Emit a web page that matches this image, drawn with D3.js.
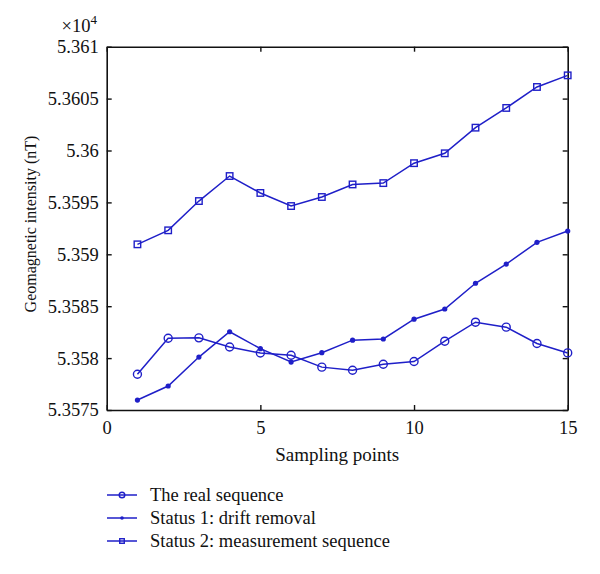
<!DOCTYPE html>
<html>
<head>
<meta charset="utf-8">
<script src="https://cdn.jsdelivr.net/npm/d3@7"></script>
<style>
body { margin: 0; background: #fff; }
svg text { font-family: "Liberation Serif", "DejaVu Serif", serif; fill: #111; }
.axis path, .axis line { stroke: #111; }
</style>
</head>
<body>
<svg id="chart" width="600" height="574"></svg>
<script>
"use strict";

// sampling points
var samples = [1, 2, 3, 4, 5, 6, 7, 8, 9, 10, 11, 12, 13, 14, 15];
// values in units of 10^4 nT
var realSeq = [5.357844, 5.358191, 5.358195, 5.358107, 5.358049, 5.358027, 5.357913,
    5.357883, 5.357941, 5.357967, 5.358163, 5.358346, 5.358298, 5.358141, 5.35805];
var driftRemoval = [5.357596, 5.357731, 5.35801, 5.358254, 5.358091, 5.357962, 5.358052,
    5.358173, 5.358184, 5.358375, 5.358473, 5.358721, 5.358906, 5.359115, 5.359224];
var measurement = [5.359096, 5.359231, 5.359513, 5.359754, 5.359591, 5.359465, 5.359552,
    5.359673, 5.359686, 5.359878, 5.359973, 5.36022, 5.36041, 5.360612, 5.360724];
var xTicks = [0, 5, 10, 15];
var yTicks = [5.3575, 5.358, 5.3585, 5.359, 5.3595, 5.36, 5.3605, 5.361];
var legendNames = ["The real sequence", "Status 1: drift removal", "Status 2: measurement sequence"];

function create_graph(selector) {
    var blue = "#1f1fc8";
    var fontSize = "18.5px";
    var svg = d3.select(selector);
    var pLeft = 106.7, pRight = 567.7, pTop = 46.7, pBottom = 410;

    var x = d3.scaleLinear().domain([0, 15]).range([pLeft, pRight]);
    var y = d3.scaleLinear().domain([5.3575, 5.361]).range([pBottom, pTop]);

    function fmt(d) { return String(+d.toFixed(4)); }

    // axes with inward ticks on all four sides
    svg.append("g").attr("class", "axis")
        .attr("transform", "translate(0," + pBottom + ")")
        .call(d3.axisBottom(x).tickValues(xTicks).tickSizeInner(-5).tickSizeOuter(0).tickPadding(11).tickFormat(d3.format("d")));
    svg.append("g").attr("class", "axis")
        .attr("transform", "translate(0," + pTop + ")")
        .call(d3.axisTop(x).tickValues(xTicks).tickSizeInner(-5).tickSizeOuter(0).tickFormat(""));
    svg.append("g").attr("class", "axis")
        .attr("transform", "translate(" + pLeft + ",0)")
        .call(d3.axisLeft(y).tickValues(yTicks).tickSizeInner(-5).tickSizeOuter(0).tickPadding(8).tickFormat(fmt));
    svg.append("g").attr("class", "axis")
        .attr("transform", "translate(" + pRight + ",0)")
        .call(d3.axisRight(y).tickValues(yTicks).tickSizeInner(-5).tickSizeOuter(0).tickFormat(""));
    svg.selectAll(".axis").attr("font-family", null).attr("font-size", null);
    svg.selectAll(".axis text").style("font-size", fontSize);
    svg.selectAll(".axis path").attr("stroke-width", 1.6);
    svg.selectAll(".axis line").attr("stroke-width", 1.4);

    // multiplier
    var mult = svg.append("text").attr("x", 97).attr("y", 32).attr("text-anchor", "end")
        .style("font-size", fontSize);
    mult.append("tspan").text("\u00d710");
    mult.append("tspan").attr("dy", -8).style("font-size", "13px").text("4");

    // axis titles
    svg.append("text").attr("x", (pLeft + pRight) / 2).attr("y", 461)
        .attr("text-anchor", "middle").style("font-size", "19px")
        .text("Sampling points");
    svg.append("text").attr("transform", "translate(36,224) rotate(-90)")
        .attr("text-anchor", "middle").style("font-size", "16px")
        .text("Geomagnetic intensity (nT)");

    var line = d3.line()
        .x(function (d, i) { return x(samples[i]); })
        .y(function (d) { return y(d); });

    var series = [realSeq, driftRemoval, measurement];
    var markers = ["circle", "dot", "square"];

    function drawMarker(g, kind, cx, cy, scale) {
        if (kind === "circle") {
            g.append("circle").attr("cx", cx).attr("cy", cy).attr("r", 4 * scale)
                .attr("fill", "none").attr("stroke", blue).attr("stroke-width", 1.4);
        } else if (kind === "dot") {
            g.append("circle").attr("cx", cx).attr("cy", cy).attr("r", 2.6 * scale)
                .attr("fill", blue);
        } else {
            var s = 6.5 * scale;
            g.append("rect").attr("x", cx - s / 2).attr("y", cy - s / 2).attr("width", s).attr("height", s)
                .attr("fill", "none").attr("stroke", blue).attr("stroke-width", 1.4);
        }
    }

    var plotG = svg.append("g");
    for (var k = 0; k < series.length; k++) {
        plotG.append("path").datum(series[k]).attr("d", line)
            .attr("fill", "none").attr("stroke", blue).attr("stroke-width", 1.5);
        for (var i = 0; i < series[k].length; i++) {
            drawMarker(plotG, markers[k], x(samples[i]), y(series[k][i]), 1);
        }
    }

    // legend
    var legendG = svg.append("g");
    for (var j = 0; j < legendNames.length; j++) {
        var ly = 495 + j * 23;
        legendG.append("line").attr("x1", 107).attr("x2", 137).attr("y1", ly).attr("y2", ly)
            .attr("stroke", blue).attr("stroke-width", 1.5);
        drawMarker(legendG, markers[j], 122, ly, 0.7);
        legendG.append("text").attr("x", 150).attr("y", ly).attr("dy", "0.35em")
            .style("font-size", fontSize).text(legendNames[j]);
    }
}

create_graph("#chart");
</script>
</body>
</html>
